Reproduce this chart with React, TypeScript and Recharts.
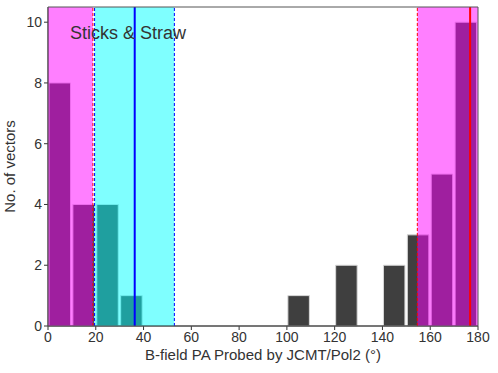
import React from "react";
import {
  BarChart,
  Bar,
  XAxis,
  YAxis,
  ReferenceArea,
  ReferenceLine,
} from "recharts";

// histogram bins, 10 degrees wide (centres)
const binCentres = [5, 15, 25, 35, 45, 55, 65, 75, 85, 95, 105, 115, 125, 135, 145, 155, 165, 175];
const counts = [8, 4, 4, 1, 0, 0, 0, 0, 0, 0, 1, 0, 2, 0, 2, 3, 5, 10];
const xTicks = [0, 20, 40, 60, 80, 100, 120, 140, 160, 180];
const yTicks = [0, 2, 4, 6, 8, 10];

// shaded ranges and marker lines (degrees)
const magentaLeft = [0, 18.8];
const cyanRange = [19.5, 52.9];
const magentaRight = [154.6, 180];
const blueMean = 36.3;
const redMean = 176.7;

const data = binCentres.map((c, i) => ({ mid: c, count: counts[i] }));

const font = "'Liberation Sans', Arial, sans-serif";

const App: React.FC = () => {
  return (
    <div style={{ position: "absolute", left: 0, top: 0, width: 498, height: 373, background: "#fff", fontFamily: font }}>
      <BarChart
        width={498}
        height={373}
        data={data}
        barSize={23.9}
        margin={{ top: 7, right: 20, bottom: 0, left: 0 }}
      >
        <XAxis
          dataKey="mid"
          type="number"
          domain={[0, 180]}
          ticks={xTicks}
          interval={0}
          height={47}
          stroke="#333"
          tickSize={4}
          tick={{ fontSize: 14, fill: "#333", fontFamily: font }}
          label={{ value: "B-field PA Probed by JCMT/Pol2 (°)", position: "insideBottom", offset: 13, fontSize: 15, fill: "#333", fontFamily: font }}
        />
        <YAxis
          type="number"
          domain={[0, 10.5]}
          ticks={yTicks}
          interval={0}
          width={48}
          stroke="#333"
          tickSize={4}
          tick={{ fontSize: 14, fill: "#333", fontFamily: font }}
          label={{ value: "No. of vectors", angle: -90, position: "insideLeft", offset: 10, fontSize: 15, fill: "#333", fontFamily: font, style: { textAnchor: "middle" } }}
        />
        <Bar
          dataKey="count"
          fill="#3f3f3f"
          stroke="#d8d8d8"
          strokeWidth={1}
          isAnimationActive={false}
        />
        <ReferenceArea x1={magentaLeft[0]} x2={magentaLeft[1]} y1={0} y2={10.5} fill="#ff00ff" fillOpacity={0.5} zIndex={1000} />
        <ReferenceArea x1={cyanRange[0]} x2={cyanRange[1]} y1={0} y2={10.5} fill="#00ffff" fillOpacity={0.5} zIndex={1000} />
        <ReferenceArea x1={magentaRight[0]} x2={magentaRight[1]} y1={0} y2={10.5} fill="#ff00ff" fillOpacity={0.5} zIndex={1000} />
        <ReferenceLine x={magentaLeft[1]} stroke="#ff0000" strokeDasharray="3 2" zIndex={1100} />
        <ReferenceLine x={cyanRange[0]} stroke="#0000ff" strokeDasharray="3 2" zIndex={1100} />
        <ReferenceLine x={cyanRange[1]} stroke="#0000ff" strokeDasharray="3 2" zIndex={1100} />
        <ReferenceLine x={magentaRight[0]} stroke="#ff0000" strokeDasharray="3 2" zIndex={1100} />
        <ReferenceLine x={blueMean} stroke="#0000ff" strokeWidth={2} zIndex={1100} />
        <ReferenceLine x={redMean} stroke="#ff0000" strokeWidth={2} zIndex={1100} />
        <ReferenceArea x1={0} x2={180} y1={0} y2={10.5} fill="none" stroke="#555" strokeWidth={1} zIndex={1200} />
      </BarChart>
      <div style={{ position: "absolute", left: 70, top: 22, fontSize: 18, color: "#333", lineHeight: "22px" }}>
        Sticks &amp; Straw
      </div>
    </div>
  );
};

export default App;
